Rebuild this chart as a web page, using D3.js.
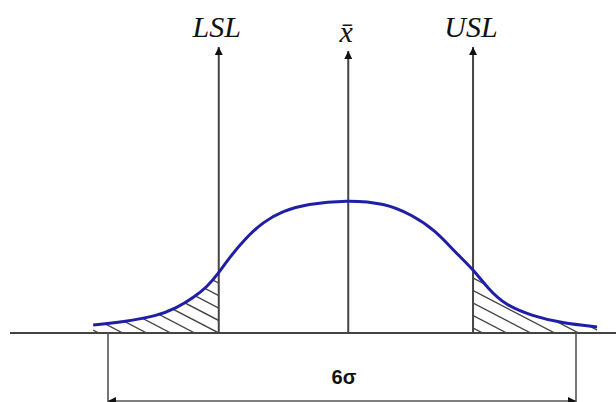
<!DOCTYPE html>
<html>
<head>
<meta charset="utf-8">
<script src="https://cdn.jsdelivr.net/npm/d3@7"></script>
<style>
  body { margin: 0; background: #fff; }
</style>
</head>
<body>
<div id="chart"></div>
<script>
// curve: x in sigma units around the 6 sigma centre, y relative to the peak
let curveX = [-3.19, -2.81, -2.37, -2.12, -1.91, -1.73, -1.58, -1.44, -1.22, -1.01, -0.76, -0.45, 0.06,
              0.55, 0.90, 1.19, 1.45, 1.68, 1.87, 2.09, 2.44, 2.82, 3.27];
let curveY = [0.06, 0.083, 0.128, 0.188, 0.263, 0.346, 0.451, 0.571, 0.722, 0.835, 0.917, 0.970, 1.0,
              0.977, 0.887, 0.774, 0.609, 0.480, 0.335, 0.211, 0.128, 0.075, 0.045];

// spec limits and mean (vertical arrows)
let limitNames = ['LSL', 'x\u0304', 'USL'];
let limitX = [-1.58, 0.08, 1.68];
let limitTop = [2.15, 2.12, 2.15];

// 6 sigma span at the bottom
let spreadX = [-3, 3];
let spreadLabel = '6\u03c3';

let totalWidth = 616;
let totalHeight = 402;
let baseY = 333;

let x = d3.scaleLinear().domain([-3, 3]).range([108, 576]);
let y = d3.scaleLinear().domain([0, 1]).range([baseY, 200]);

let svg = d3.select('#chart')
    .append('svg')
    .attr('width', totalWidth)
    .attr('height', totalHeight);

let defs = svg.append('defs');

// arrow head
defs.append('marker')
    .attr('id', 'arrow')
    .attr('viewBox', '0 0 10 10')
    .attr('refX', 10)
    .attr('refY', 5)
    .attr('markerWidth', 9)
    .attr('markerHeight', 8)
    .attr('markerUnits', 'userSpaceOnUse')
    .attr('orient', 'auto-start-reverse')
    .append('path')
    .attr('d', 'M0,0 L10,5 L0,10 Z')
    .attr('fill', '#111');

let points = curveX.map((d, i) => ({x: d, y: curveY[i]}));

let line = d3.line()
    .x(d => x(d.x))
    .y(d => y(d.y))
    .curve(d3.curveBasis);

let area = d3.area()
    .x(d => x(d.x))
    .y0(baseY)
    .y1(d => y(d.y))
    .curve(d3.curveBasis);

// clip for the area under the curve
defs.append('clipPath').attr('id', 'underCurve')
    .append('path').attr('d', area(points));

// clip for the two tails outside the limits
let tails = defs.append('clipPath').attr('id', 'tails');
tails.append('rect')
    .attr('x', 0).attr('y', 0)
    .attr('width', x(limitX[0])).attr('height', baseY);
tails.append('rect')
    .attr('x', x(limitX[2])).attr('y', 0)
    .attr('width', totalWidth - x(limitX[2])).attr('height', baseY);

// hatching in the tails
let hatchGap = 24;
let hatchSlope = 0.52;
let hatchEnds = d3.range(x(limitX[0]) - 10 * hatchGap, totalWidth + 10 * hatchGap, hatchGap);

svg.append('g')
    .attr('clip-path', 'url(#tails)')
    .append('g')
    .attr('clip-path', 'url(#underCurve)')
    .selectAll('line')
    .data(hatchEnds)
    .enter()
    .append('line')
    .attr('x1', d => d - 200)
    .attr('y1', baseY - 200 * hatchSlope)
    .attr('x2', d => d)
    .attr('y2', baseY)
    .attr('stroke', '#444')
    .attr('stroke-width', 1.4);

// baseline
svg.append('line')
    .attr('x1', 10)
    .attr('x2', totalWidth)
    .attr('y1', baseY)
    .attr('y2', baseY)
    .attr('stroke', '#444')
    .attr('stroke-width', 2);

// limit arrows
svg.selectAll('.limit')
    .data(limitX)
    .enter()
    .append('line')
    .attr('class', 'limit')
    .attr('x1', d => x(d))
    .attr('x2', d => x(d))
    .attr('y1', baseY)
    .attr('y2', (d, i) => y(limitTop[i]))
    .attr('stroke', '#444')
    .attr('stroke-width', 2)
    .attr('marker-end', 'url(#arrow)');

// limit labels
svg.selectAll('.limitLabel')
    .data(limitNames)
    .enter()
    .append('text')
    .attr('class', 'limitLabel')
    .attr('x', (d, i) => x(limitX[i]) - 2)
    .attr('y', (d, i) => y(limitTop[i]) - (i === 1 ? 9 : 10))
    .attr('text-anchor', 'middle')
    .style('font-family', "'Liberation Serif', 'Times New Roman', serif")
    .style('font-style', 'italic')
    .style('font-size', '30px')
    .style('fill', '#111')
    .text(d => d);

// distribution curve
svg.append('path')
    .datum(points)
    .attr('d', line)
    .attr('fill', 'none')
    .attr('stroke', '#1f1fa6')
    .attr('stroke-width', 3);

// 6 sigma dimension
svg.selectAll('.ext')
    .data(spreadX)
    .enter()
    .append('line')
    .attr('class', 'ext')
    .attr('x1', d => x(d))
    .attr('x2', d => x(d))
    .attr('y1', baseY)
    .attr('y2', totalHeight)
    .attr('stroke', '#555')
    .attr('stroke-width', 1.6);

svg.append('line')
    .attr('x1', x(spreadX[0]))
    .attr('x2', x(spreadX[1]))
    .attr('y1', 401)
    .attr('y2', 401)
    .attr('stroke', '#555')
    .attr('stroke-width', 1.6)
    .attr('marker-start', 'url(#arrow)')
    .attr('marker-end', 'url(#arrow)');

svg.append('text')
    .attr('x', x((spreadX[0] + spreadX[1]) / 2) + 2)
    .attr('y', 384)
    .attr('text-anchor', 'middle')
    .style('font-family', "'Liberation Sans', Arial, sans-serif")
    .style('font-weight', 'bold')
    .style('font-size', '20px')
    .style('fill', '#111')
    .text(spreadLabel);
</script>
</body>
</html>
